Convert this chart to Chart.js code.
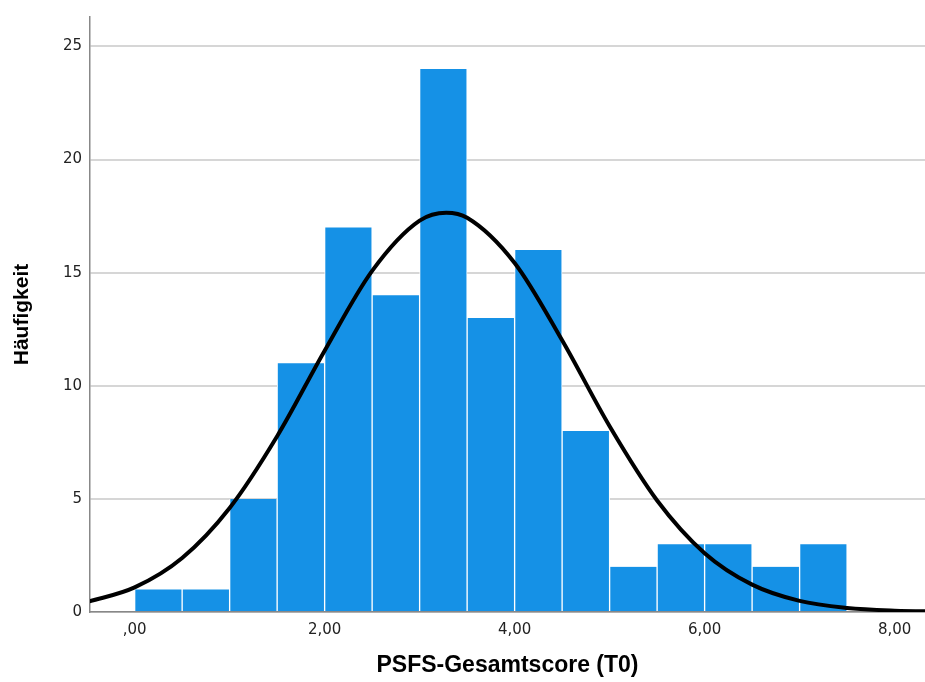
<!DOCTYPE html>
<html>
<head>
<meta charset="utf-8">
<script src="https://cdn.jsdelivr.net/npm/chart.js@4/dist/chart.umd.min.js"></script>
<style>
  html, body { margin: 0; padding: 0; background: #fff; }
  #wrap { width: 925px; height: 682px; }
</style>
</head>
<body>
<div id="wrap"><canvas id="chart"></canvas></div>
<script>
// histogram bins (width 0,5), centres and counts
const binCenters = [0.25, 0.75, 1.25, 1.75, 2.25, 2.75, 3.25, 3.75, 4.25, 4.75, 5.25, 5.75, 6.25, 6.75, 7.25];
const counts = [1, 1, 5, 11, 17, 14, 24, 13, 16, 8, 2, 3, 3, 2, 3];

// normal curve
const curveX = [-0.5, 0, 0.5, 1, 1.5, 2, 2.5, 3, 3.28, 3.5, 4, 4.5, 5, 5.5, 6, 6.5, 7, 7.5, 8, 8.5];
const curveY = [0.44, 1.09, 2.39, 4.6, 7.77, 11.55, 15.08, 17.3, 17.65, 17.43, 15.43, 12.01, 8.21, 4.93, 2.6, 1.21, 0.49, 0.18, 0.06, 0.02];

const xTicks = [0, 2, 4, 6, 8];
const yTicks = [0, 5, 10, 15, 20, 25];

const barData = binCenters.map((c, i) => ({ x: c, y: counts[i] }));
const lineData = curveX.map((x, i) => ({ x: x, y: curveY[i] }));

function fmt(v) {
  let s = v.toFixed(2).replace('.', ',');
  if (s.startsWith('0,')) s = s.slice(1);
  return s;
}

new Chart(document.getElementById('chart'), {
  type: 'bar',
  data: {
    datasets: [
      {
        type: 'line',
        data: lineData,
        borderColor: '#000',
        borderWidth: 4,
        pointRadius: 0,
        cubicInterpolationMode: 'monotone',
        fill: false,
        order: 0
      },
      {
        type: 'bar',
        data: barData,
        backgroundColor: '#1591e6',
        borderColor: '#ffffff',
        borderWidth: { left: 1, right: 1, top: 0, bottom: 0 },
        borderSkipped: false,
        barPercentage: 1,
        categoryPercentage: 1,
        order: 1
      }
    ]
  },
  options: {
    responsive: true,
    maintainAspectRatio: false,
    animation: false,
    layout: { padding: { top: 14, right: 0, left: 0, bottom: 0 } },
    plugins: { legend: { display: false }, tooltip: { enabled: false } },
    scales: {
      x: {
        type: 'linear',
        offset: false,
        min: -0.47,
        max: 8.32,
        afterBuildTicks: s => { s.ticks = xTicks.map(v => ({ value: v })); },
        afterFit: s => { s.height = 70; },
        grid: { display: false, drawTicks: false },
        border: { display: true, color: '#888', width: 1.5 },
        ticks: {
          padding: 9,
          color: '#222',
          font: { family: 'DejaVu Sans', size: 15 },
          callback: v => fmt(v)
        },
        title: {
          display: true,
          text: 'PSFS-Gesamtscore (T0)',
          color: '#000',
          font: { family: 'Liberation Sans', size: 23, weight: 'bold' },
          padding: { top: 4, bottom: 3 }
        }
      },
      y: {
        min: 0,
        max: 26.3,
        afterBuildTicks: s => { s.ticks = yTicks.map(v => ({ value: v })); },
        afterFit: s => { s.width = 90; },
        grid: { color: '#d6d6d6', lineWidth: 2, drawTicks: false },
        border: { display: true, color: '#888', width: 1.5 },
        ticks: {
          padding: 8,
          color: '#222',
          font: { family: 'DejaVu Sans', size: 15 }
        },
        title: {
          display: true,
          text: 'Häufigkeit',
          color: '#000',
          font: { family: 'Liberation Sans', size: 21, weight: 'bold' },
          padding: { top: 10, bottom: 4 }
        }
      }
    }
  }
});
</script>
</body>
</html>
